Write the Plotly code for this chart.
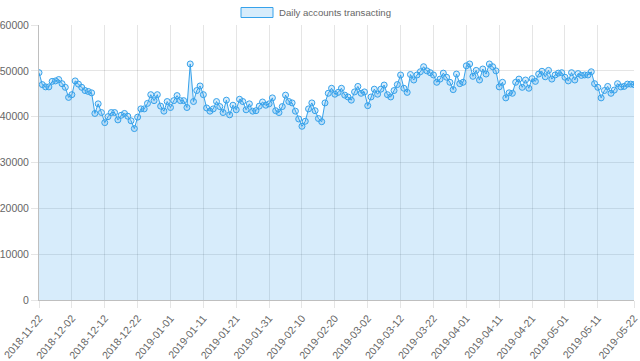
import pandas as pd
import plotly.graph_objects as go

start_date = "2018-11-22"
n_days = 182
dates = [d.strftime("%Y-%m-%d") for d in pd.date_range(start_date, periods=n_days, freq="D")]

accounts = [
    49600, 47000, 46500, 46500, 47700, 47800, 48100, 47200, 46400, 44200,
    44800, 47800, 47100, 46400, 45700, 45500, 45200, 40700, 42800, 40900,
    38700, 40000, 40900, 40900, 39300, 40300, 40700, 40100, 39100, 37400,
    39900, 41700, 41700, 42900, 44800, 43500, 44800, 42300, 41200, 43300,
    42000, 43500, 44600, 43500, 43500, 42000, 51500, 43300, 45700, 46700,
    44800, 41900, 41200, 41700, 43300, 42200, 40900, 43600, 40400, 42500,
    41500, 43800, 43300, 41500, 42800, 41200, 41300, 42300, 43200, 42500,
    42800, 44100, 41300, 40900, 42200, 44700, 43300, 43000, 41200, 39500,
    37900, 39000, 41700, 43000, 41300, 39600, 38900, 43000, 45100, 46200,
    44900, 45300, 46200, 44700, 44300, 43600, 45400, 46600, 45100, 45400,
    42400, 44300, 46000, 44900, 46000, 46900, 44800, 44300, 45700, 47000,
    49100, 46200, 45300, 49200, 48000, 49100, 49800, 50900, 50000, 49600,
    49100, 47500, 48200, 49500, 48600, 47500, 45900, 49300, 47200, 47500,
    51100, 51500, 48800, 50100, 48000, 50400, 49300, 51500, 50900, 50000,
    46500, 47500, 44100, 45200, 45100, 47500, 48200, 46400, 48000, 46200,
    48300, 47700, 49300, 49900, 48700, 50100, 48200, 49100, 49500, 49600,
    48600, 47800, 49600, 48000, 49400, 49000, 49100, 49100, 49800, 47200,
    46400, 44100, 45700, 46600, 45100, 45800, 47200, 46500, 46600, 47100,
    47100, 47000,
]

x_tick_labels = [
    "2018-11-22", "2018-12-02", "2018-12-12", "2018-12-22", "2019-01-01",
    "2019-01-11", "2019-01-21", "2019-01-31", "2019-02-10", "2019-02-20",
    "2019-03-02", "2019-03-12", "2019-03-22", "2019-04-01", "2019-04-11",
    "2019-04-21", "2019-05-01", "2019-05-11", "2019-05-22",
]
y_ticks = [0, 10000, 20000, 30000, 40000, 50000, 60000]
series_name = "Daily accounts transacting"

line_col = "rgb(54,162,235)"
fill_col = "rgba(54,162,235,0.2)"
grid_col = "rgba(0,0,0,0.1)"
font_family = "Liberation Sans, Arial, Helvetica, sans-serif"
tick_size = 10.5
legend_size = 9.6

W, H = 640, 361
ML, MR, MT, MB = 39, 6, 25, 61
pw, ph = W - ML - MR, H - MT - MB


def px_x(px):
    return (px - ML) / pw


def px_y(py):
    return (H - MB - py) / ph


fig = go.Figure()
fig.add_trace(go.Scatter(
    x=dates, y=accounts, mode="lines+markers", fill="tozeroy",
    fillcolor=fill_col, line=dict(color=line_col, width=1),
    marker=dict(size=6, color=fill_col, line=dict(color=line_col, width=1)),
    showlegend=False, name=series_name,
))

# legend (drawn manually, Chart.js style)
fig.add_shape(type="rect", xref="paper", yref="paper",
              x0=px_x(241), x1=px_x(273), y0=px_y(17.5), y1=px_y(7.5),
              fillcolor=fill_col, line=dict(color=line_col, width=1))
fig.add_annotation(text=series_name, xref="paper", yref="paper",
                   x=px_x(277), y=px_y(12.5), xanchor="left", yanchor="middle",
                   showarrow=False, font=dict(size=legend_size, color="#666", family=font_family))

fig.update_layout(
    width=W, height=H,
    margin=dict(l=ML, r=MR, t=MT, b=MB),
    paper_bgcolor="white", plot_bgcolor="white",
    font=dict(family=font_family, size=tick_size, color="#666"),
    showlegend=False,
    hovermode=False,
)
fig.update_xaxes(
    type="category", range=[0, n_days - 1], automargin=False,
    tickmode="array", tickvals=x_tick_labels, ticktext=x_tick_labels,
    tickangle=-50, showgrid=True, gridcolor=grid_col, gridwidth=1,
    ticks="outside", ticklen=7, tickcolor=grid_col,
    showline=True, linecolor="rgba(0,0,0,0.25)", linewidth=1,
    tickfont=dict(size=tick_size, color="#666"), zeroline=False,
)
fig.update_yaxes(
    range=[0, 60000], tickmode="array", tickvals=y_ticks, tickformat="d",
    automargin=False,
    showgrid=True, gridcolor=grid_col, gridwidth=1,
    ticks="outside", ticklen=7, tickcolor=grid_col,
    showline=True, linecolor="rgba(0,0,0,0.25)", linewidth=1,
    tickfont=dict(size=tick_size, color="#666"), zeroline=False,
)

fig.write_html(
    "out.html",
    config={"displayModeBar": False},
    post_script="document.body.style.margin='0px';document.body.style.overflow='hidden';",
)
